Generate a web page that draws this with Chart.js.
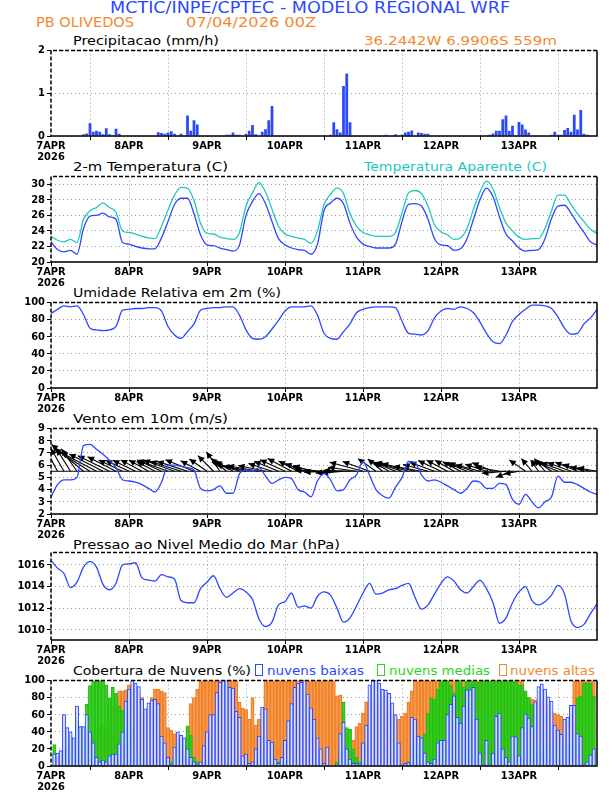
<!DOCTYPE html>
<html>
<head>
<meta charset="utf-8">
<script src="https://cdn.jsdelivr.net/npm/chart.js"></script>
<style>
html, body { margin: 0; padding: 0; background: #fff; }
#page { position: relative; width: 612px; height: 792px; overflow: hidden; background: #fff; }
.panel { position: absolute; left: 0; width: 612px; }
.txt { position: absolute; white-space: nowrap; font-family: 'DejaVu Sans', sans-serif; transform-origin: 0 50%; }
.lbox { position: absolute; box-sizing: border-box; border: 1.5px solid; background: transparent; }
</style>
</head>
<body>
<div id="page"></div>
<script>
// eixo do tempo: horas desde 07/04 00Z
const DAY_TICKS = [0, 24, 48, 72, 96, 120, 144];
const DAY_LABELS = ['7APR', '8APR', '9APR', '10APR', '11APR', '12APR', '13APR'];
const YEAR_LABEL = '2026';
const LINE_HOURS = Array.from({ length: 85 }, (_, i) => i * 2);   // series de 2 em 2 horas
const BAR_HOURS = Array.from({ length: 168 }, (_, i) => i);       // barras horarias

// precipitacao (mm/h)
const PRECIP = [
  0,0,0,0,0.01,0.01,0.01,0.01,0.01,0.01,0.04,0.06,0.3,0.1,0.12,0.1,0.04,0.18,0.04,0.02,0.17,0.05,0.01,0,
  0.01,0.01,0.01,0.01,0,0.01,0.01,0.01,0.01,0.09,0.07,0.05,0.08,0.11,0.05,0.01,0.05,0.01,0.48,0.12,0.37,0.27,0,0,
  0,0.01,0.01,0.01,0.01,0.01,0.03,0.03,0.08,0.03,0.03,0.01,0.05,0.12,0.26,0.04,0.01,0.1,0.16,0.37,0.7,0,0,0,
  0,0,0,0,0,0.01,0,0,0,0,0,0,0,0.01,0.03,0.32,0.16,0.08,1.17,1.46,0.32,0,0,0,
  0,0,0,0,0,0.01,0.01,0.03,0.01,0.01,0.04,0.01,0.03,0.08,0.1,0.13,0.01,0.08,0.07,0.05,0.05,0,0,0,
  0,0.01,0.01,0.01,0.01,0.01,0.01,0.01,0.01,0.01,0.01,0.01,0.01,0.01,0.01,0.03,0.06,0.12,0.12,0.39,0.48,0.12,0.24,0,
  0.33,0.27,0.15,0.08,0,0,0,0.01,0.01,0.01,0.03,0.1,0.03,0.03,0.14,0.19,0.1,0.5,0.15,0.61,0.05,0.03,0,0
];
const PRECIP_TICKS = [0, 1, 2];

// temperatura 2 m e temperatura aparente (C)
const TEMP = [
  22.6,21.6,21.3,21.5,21.0,24.3,25.9,26.0,26.3,25.8,25.5,22.5,
  22.3,22.0,21.8,21.7,21.7,23.1,25.2,27.4,28.2,28.2,26.2,23.5,
  22.2,22.1,21.8,21.6,21.4,22.2,26.0,27.8,28.8,27.5,25.2,23.0,
  22.2,21.8,21.6,21.5,21.0,22.3,26.6,27.6,28.2,27.5,25.0,23.2,
  22.3,22.0,21.8,21.8,21.8,22.3,25.2,27.4,27.5,27.2,25.5,23.0,
  22.2,22.1,21.5,21.7,23.0,25.5,28.0,29.5,28.4,25.8,23.6,22.7,
  21.8,21.4,21.5,21.6,23.0,25.6,27.2,27.3,26.3,25.0,23.8,22.6,
  22.2
];
const TEMP_APAR = [
  23.3,22.8,22.6,22.9,22.5,25.5,26.6,27.0,27.6,27.0,26.4,24.0,
  23.8,23.6,23.3,23.1,23.0,24.6,26.7,28.6,29.6,29.5,27.9,25.0,
  23.7,23.6,23.2,23.0,22.9,23.8,27.2,28.9,30.2,29.0,26.8,24.6,
  23.6,23.3,23.1,22.9,22.4,24.0,27.4,28.7,29.5,28.8,26.2,24.6,
  23.8,23.5,23.3,23.3,23.3,23.8,26.3,28.9,29.2,28.8,27.2,24.8,
  23.9,23.5,22.9,23.1,24.3,26.8,29.0,30.4,29.4,27.0,25.0,24.0,
  23.2,22.9,23.0,23.0,24.3,26.6,28.6,28.6,27.4,26.2,25.2,24.2,
  23.7
];
const TEMP_TICKS = [20, 22, 24, 26, 28, 30];

// umidade relativa (%)
const RH = [
  87,92,96,95,96,86,70,68,67,68,72,91,
  92,93,93,94,94,90,72,62,58,66,75,91,
  93,94,94,95,95,85,68,58,57,60,69,79,
  90,95,95,95,96,85,64,58,57,66,75,88,
  92,94,95,95,95,94,78,64,63,62,67,82,
  90,93,92,95,93,88,77,64,54,52,62,78,
  86,92,97,97,96,93,83,70,63,64,75,82,
  92
];
const PCT_TICKS = [0, 20, 40, 60, 80, 100];

// vento 10 m: velocidade (m/s) e direcao de onde sopra (graus)
const WIND_SPD = [
  3.4,4.4,4.8,4.8,5.0,7.6,7.7,7.3,6.9,6.4,5.8,4.8,
  4.7,4.6,4.4,4.1,3.8,4.6,6.0,6.0,5.9,5.8,5.6,4.1,
  3.9,4.0,4.3,3.7,3.7,5.3,5.6,5.5,5.8,5.1,4.5,4.8,
  5.0,4.9,4.0,3.8,3.4,4.7,5.3,4.8,3.9,4.0,4.8,5.2,
  6.3,5.2,4.0,3.5,3.3,4.2,5.0,6.3,6.2,5.2,4.7,4.8,
  4.6,4.3,4.0,3.7,4.1,4.7,4.6,4.1,4.1,4.5,4.4,3.2,
  2.8,3.6,3.0,2.5,3.0,3.4,5.1,4.6,4.6,4.4,4.1,3.8,
  3.6
];
const WIND_DIR = [
  150,152,150,148,145,130,122,118,117,116,117,115,
  115,116,118,120,118,115,110,110,108,108,112,118,
  125,135,145,130,120,108,102,100,100,102,108,112,
  115,118,118,112,108,100,92,88,85,85,92,98,
  105,110,125,130,120,112,108,105,103,100,105,110,
  115,118,120,118,112,108,105,108,112,100,85,70,
  80,125,140,145,140,125,112,110,110,112,108,102,
  100
];
const WIND_TICKS = [2, 3, 4, 5, 6, 7, 8, 9];
const WIND_BASE = 5.5;

// pressao ao nivel medio do mar (hPa)
const PRES = [
  1016.4,1015.7,1015.2,1013.9,1014.4,1015.8,1016.3,1015.8,1014.2,1013.7,1014.3,1016.0,
  1016.1,1016.2,1014.8,1014.6,1014.5,1015.1,1014.9,1014.7,1012.7,1012.5,1012.5,1013.8,
  1014.4,1015.0,1013.8,1013.0,1013.4,1013.8,1013.5,1012.8,1011.0,1010.3,1010.7,1012.3,
  1012.6,1013.4,1012.1,1012.2,1012.0,1013.1,1013.5,1013.2,1012.0,1010.7,1011.1,1012.2,
  1013.4,1014.3,1013.3,1013.4,1013.7,1013.8,1014.1,1014.3,1013.0,1011.9,1012.3,1013.3,
  1014.3,1014.9,1014.5,1013.7,1013.4,1014.0,1014.6,1013.8,1012.5,1010.6,1011.1,1012.5,
  1013.5,1014.0,1012.7,1012.3,1012.6,1013.2,1014.1,1013.3,1010.8,1010.2,1010.5,1011.5,
  1012.4
];
const PRES_TICKS = [1010, 1012, 1014, 1016];

// cobertura de nuvens (%)
const NUV_BAIXAS = [
  0,14,15,18,60,45,40,33,70,46,46,60,40,27,10,5,7,5,12,14,14,26,40,76,
  90,100,97,93,78,67,74,77,78,73,35,27,10,2,22,40,36,33,20,10,5,2,5,24,
  40,60,60,86,98,100,100,92,91,64,57,12,14,3,5,20,35,69,67,30,28,8,3,10,
  30,53,73,92,97,98,100,84,68,55,33,20,3,22,0,0,2,38,51,20,8,3,3,2,
  27,48,95,100,100,97,90,89,85,74,60,27,2,3,4,57,55,35,33,15,5,3,8,27,
  30,30,60,72,82,57,50,70,89,89,92,55,15,2,30,2,15,58,62,20,10,5,35,34,
  12,45,61,56,46,75,93,96,90,81,76,48,42,37,55,57,71,71,38,35,2,5,13,20
];
const NUV_MEDIAS = [
  0,25,10,5,18,20,36,32,54,46,42,72,94,100,100,100,100,95,80,92,85,70,65,48,
  60,40,30,20,10,5,2,2,0,0,0,2,3,5,10,30,25,10,47,36,10,5,3,2,
  0,0,0,2,0,0,0,0,0,0,0,0,0,0,2,0,0,0,20,3,0,2,5,5,
  5,2,0,0,0,0,0,0,0,0,0,0,0,0,0,0,5,20,75,45,43,20,10,5,
  5,2,0,0,0,0,0,0,0,0,0,0,0,2,5,22,30,20,33,37,62,80,78,90,
  100,100,100,95,85,100,100,92,100,100,100,98,98,100,100,100,98,100,100,100,100,100,100,98,
  95,95,88,80,72,30,25,20,22,25,20,15,20,25,28,25,28,35,80,82,97,97,97,82
];
const NUV_ALTAS = [
  0,0,2,3,5,20,10,5,8,10,15,20,30,35,40,45,48,50,55,70,75,88,88,89,
  95,95,90,85,80,65,70,80,90,90,88,86,45,42,38,35,25,15,35,73,80,90,100,100,
  100,100,100,100,100,100,100,100,100,100,75,68,66,55,80,48,55,66,100,100,100,100,100,100,
  100,100,100,100,100,100,100,100,100,100,100,100,100,100,100,100,82,83,60,40,20,30,46,50,
  62,75,77,77,70,73,80,82,70,62,59,55,58,62,75,88,100,100,100,100,100,100,100,100,
  100,100,100,100,100,100,100,100,95,95,95,100,100,100,100,100,100,100,100,100,100,100,100,100,
  100,100,85,80,78,77,80,78,72,70,64,62,60,58,55,50,60,100,100,100,100,100,100,100
];

// cores
const BLUE = '#2a48ff';
const CYAN = '#1ec8c0';
const ORANGE = '#f08a32';
const GREEN = '#2bd51e';

const page = document.getElementById('page');
const LEFT = 51, RIGHT = 597, PAD_TOP = 4, AXIS_H = 30;
const TICK_FONT = { family: "'DejaVu Sans Condensed', 'DejaVu Sans', sans-serif", size: 11, weight: 'bold', lineHeight: 1.0 };

// textos (ajustados na largura)
function addText(str, left, right, cy, size, color) {
  const s = document.createElement('span');
  s.className = 'txt';
  s.textContent = str;
  s.style.fontSize = size + 'px';
  s.style.lineHeight = size + 'px';
  s.style.color = color;
  s.style.left = left + 'px';
  s.style.top = (cy - size / 2) + 'px';
  page.appendChild(s);
  const w = s.getBoundingClientRect().width;
  s.style.transform = 'scaleX(' + ((right - left) / w) + ')';
}
function addBox(left, top, w, h, color) {
  const b = document.createElement('div');
  b.className = 'lbox';
  Object.assign(b.style, { left: left + 'px', top: top + 'px', width: w + 'px', height: h + 'px', borderColor: color });
  page.appendChild(b);
}

addText('MCTIC/INPE/CPTEC - MODELO REGIONAL WRF', 110, 510, 8, 16, BLUE);
addText('PB OLIVEDOS', 36, 134, 22, 14, ORANGE);
addText('07/04/2026 00Z', 186, 316, 22, 14, ORANGE);
addText('Precipitacao (mm/h)', 73, 219, 40.5, 13, '#000');
addText('36.2442W 6.9906S 559m', 364, 557, 40.5, 13, ORANGE);
addText('2-m Temperatura (C)', 73, 228, 166, 13, '#000');
addText('Temperatura Aparente (C)', 364, 547, 166, 13, CYAN);
addText('Umidade Relativa em 2m (%)', 73, 281, 292.5, 13, '#000');
addText('Vento em 10m (m/s)', 73, 228, 418.5, 13, '#000');
addText('Pressao ao Nivel Medio do Mar (hPa)', 73, 340, 544, 13, '#000');
addText('Cobertura de Nuvens (%)', 73, 251, 670.5, 13, '#000');
addBox(255, 664, 8, 12, BLUE);
addText('nuvens baixas', 267, 364, 670.5, 13, BLUE);
addBox(377, 664, 8, 12, GREEN);
addText('nuvens medias', 389, 490, 670.5, 13, GREEN);
addBox(499, 664, 8, 12, ORANGE);
addText('nuvens altas', 510, 595, 670.5, 13, ORANGE);

// moldura: topo e esquerda tracejados
const frame = {
  id: 'frame',
  afterDraw(chart) {
    const { ctx, chartArea: a } = chart;
    ctx.save();
    ctx.strokeStyle = '#000';
    ctx.lineWidth = 1.5;
    ctx.setLineDash([]);
    ctx.beginPath();
    ctx.moveTo(a.left, a.bottom); ctx.lineTo(a.right, a.bottom); ctx.lineTo(a.right, a.top);
    ctx.stroke();
    ctx.setLineDash([4, 2]);
    ctx.beginPath();
    ctx.moveTo(a.right, a.top); ctx.lineTo(a.left, a.top); ctx.lineTo(a.left, a.bottom);
    ctx.stroke();
    ctx.restore();
  }
};

// vetores de vento a partir da linha base
const ARROW_PX = 5.5;
const windArrows = {
  id: 'windArrows',
  beforeDatasetsDraw(chart) {
    const { ctx, chartArea: a, scales: { x, y } } = chart;
    const y0 = y.getPixelForValue(WIND_BASE);
    ctx.save();
    ctx.beginPath();
    ctx.rect(a.left, a.top, a.right - a.left, a.bottom - a.top);
    ctx.clip();
    ctx.strokeStyle = '#000';
    ctx.fillStyle = '#000';
    ctx.lineWidth = 1.1;
    ctx.beginPath();
    ctx.moveTo(a.left, y0); ctx.lineTo(a.right, y0);
    ctx.stroke();
    LINE_HOURS.forEach((h, i) => {
      const x0 = x.getPixelForValue(h);
      const r = WIND_SPD[i] * ARROW_PX;
      const th = WIND_DIR[i] * Math.PI / 180;
      const x1 = x0 - r * Math.sin(th);
      const y1 = y0 + r * Math.cos(th);
      const ang = Math.atan2(y1 - y0, x1 - x0);
      const hl = 6.5, hw = 3.2;
      ctx.beginPath();
      ctx.moveTo(x0, y0); ctx.lineTo(x1, y1);
      ctx.stroke();
      ctx.beginPath();
      ctx.moveTo(x1, y1);
      ctx.lineTo(x1 - hl * Math.cos(ang) + hw * Math.sin(ang), y1 - hl * Math.sin(ang) - hw * Math.cos(ang));
      ctx.lineTo(x1 - hl * Math.cos(ang) - hw * Math.sin(ang), y1 - hl * Math.sin(ang) + hw * Math.cos(ang));
      ctx.closePath();
      ctx.fill();
    });
    ctx.restore();
  }
};

function lineSet(values, color) {
  return {
    type: 'line',
    data: LINE_HOURS.map((h, i) => ({ x: h, y: values[i] })),
    borderColor: color, borderWidth: 1.3, pointRadius: 0,
    cubicInterpolationMode: 'monotone', fill: false
  };
}
function barSet(values, bg, border, bw, pct) {
  return {
    type: 'bar',
    data: BAR_HOURS.map((h, i) => ({ x: h, y: values[i] })),
    backgroundColor: bg, borderColor: border, borderWidth: bw,
    barPercentage: pct, categoryPercentage: 1, grouped: false
  };
}

function makePanel(top, bottom, yMin, yMax, yTicks, datasets, extra) {
  const div = document.createElement('div');
  div.className = 'panel';
  div.style.top = (top - PAD_TOP) + 'px';
  div.style.height = (bottom - top + PAD_TOP + AXIS_H) + 'px';
  const cv = document.createElement('canvas');
  div.appendChild(cv);
  page.appendChild(div);
  return new Chart(cv, {
    type: 'line',
    data: { datasets },
    options: {
      responsive: true, maintainAspectRatio: false, animation: false,
      layout: { padding: { left: 0, right: 612 - RIGHT, top: PAD_TOP, bottom: 0 } },
      plugins: { legend: { display: false }, tooltip: { enabled: false } },
      scales: {
        x: {
          type: 'linear', min: 0, max: 168, offset: false,
          afterFit: s => { s.height = AXIS_H; },
          afterBuildTicks: s => { s.ticks = DAY_TICKS.map(v => ({ value: v })); },
          ticks: {
            autoSkip: false, maxRotation: 0, padding: 1, color: '#000', font: TICK_FONT,
            callback: v => {
              const i = DAY_TICKS.indexOf(v);
              return i === 0 ? [DAY_LABELS[0], YEAR_LABEL] : DAY_LABELS[i];
            }
          },
          grid: { color: '#9a9a9a', lineWidth: 1, tickLength: 4, tickColor: '#000', tickWidth: 1 },
          border: { display: false, dash: [1, 3] }
        },
        y: {
          min: yMin, max: yMax,
          afterFit: s => { s.width = LEFT; },
          afterBuildTicks: s => { s.ticks = yTicks.map(v => ({ value: v })); },
          ticks: { autoSkip: false, padding: 2, color: '#000', font: TICK_FONT, callback: v => String(v) },
          grid: { color: '#9a9a9a', lineWidth: 1, tickLength: 4, tickColor: '#000', tickWidth: 1 },
          border: { display: false, dash: [1, 3] }
        }
      }
    },
    plugins: [frame].concat(extra || [])
  });
}

// Precipitacao
makePanel(47, 136, 0, 2, PRECIP_TICKS, [barSet(PRECIP, BLUE, BLUE, 0, 0.85)]);

// Temperatura
makePanel(173, 262, 20, 31, TEMP_TICKS, [lineSet(TEMP_APAR, CYAN), lineSet(TEMP, BLUE)]);

// Umidade
makePanel(299, 388, 0, 100, PCT_TICKS, [lineSet(RH, BLUE)]);

// Vento
makePanel(425, 514, 2, 9, WIND_TICKS, [lineSet(WIND_SPD, BLUE)], [windArrows]);

// Pressao
makePanel(549, 640, 1009.05, 1017.15, PRES_TICKS, [lineSet(PRES, BLUE)]);

// Nuvens
makePanel(677, 766, 0, 100, PCT_TICKS, [
  barSet(NUV_BAIXAS, 'rgba(255,255,255,0.75)', BLUE, 1, 1),
  barSet(NUV_MEDIAS, 'rgba(50,205,30,0.85)', '#20c010', 1, 1),
  barSet(NUV_ALTAS, 'rgba(245,150,70,0.85)', '#f07a20', 1, 1)
]);
</script>
</body>
</html>
